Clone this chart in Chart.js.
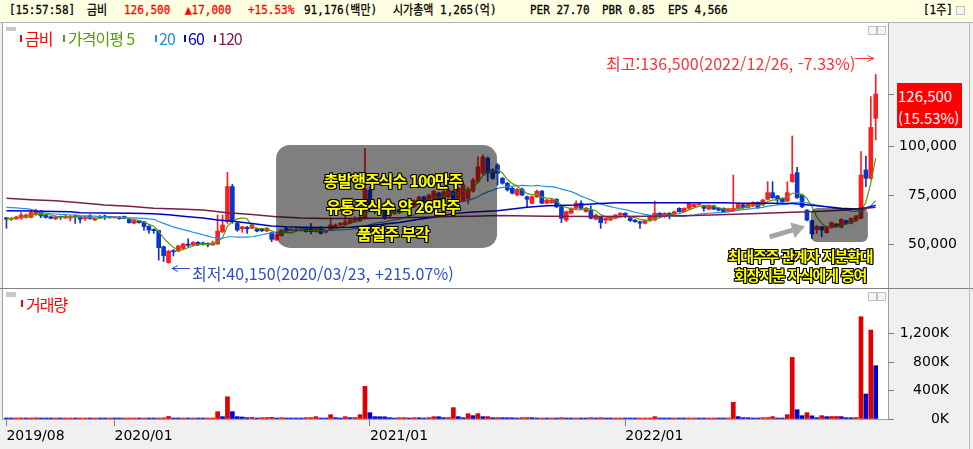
<!DOCTYPE html>
<html lang="ko"><head><meta charset="utf-8">
<script src="https://cdn.jsdelivr.net/npm/chart.js@4.4.1/dist/chart.umd.min.js"></script>
<style>
html,body{margin:0;padding:0}
body{width:973px;height:449px;background:#f0f0f0;position:relative;overflow:hidden;font-family:"Noto Sans CJK KR","Noto Sans",sans-serif}
.a{position:absolute;white-space:nowrap}
#hdr{left:0;top:0;width:973px;height:22px;background:#ffffe1;border-bottom:1px solid #b4b4b4}
.h{position:absolute;top:4px;font-family:"DejaVu Sans Mono","Noto Sans CJK KR",monospace;font-size:11px;line-height:14px;color:#000;transform:scaleY(1.15);transform-origin:0 50%;-webkit-text-stroke:0.25px currentColor}
.r{color:#ff0000}
#p1{left:2px;top:23px;width:885px;height:265px;background:#fff;border-left:1px solid #a0a0a0;border-right:1px solid #a0a0a0}
#sep{left:0;top:288px;width:973px;height:1px;background:#808080}
#p2{left:2px;top:289px;width:885px;height:130px;background:#fff;border-left:1px solid #a0a0a0;border-right:1px solid #a0a0a0;border-bottom:1px solid #a0a0a0}
#rf{left:969px;top:23px;width:1px;height:426px;background:#b8b8b8}
canvas{position:absolute;left:0}
#c1{top:24px}
#c2{top:289px}
.lg{font-size:16px;line-height:20px;letter-spacing:-1px}
.mk{position:absolute;width:2px;height:7px}
.ann{font-weight:700;color:#ffff00;line-height:20px;transform:translateX(-50%);
 text-shadow:-1px -1px 0 #000,1px -1px 0 #000,-1px 1px 0 #000,1px 1px 0 #000,0 1px 0 #000,1px 0 0 #000,0 -1px 0 #000,-1px 0 0 #000}
.a1{font-size:16px;letter-spacing:-1px}
.a2{font-size:15px;letter-spacing:-1.2px}
.hl{font-size:16px;line-height:20px;letter-spacing:0.1px}
.gr{background:#c8c8c8}
.ic{position:absolute;width:7px;height:7px;border:1px solid #c0c0c0;background:#f4f4f4}
#badge{left:897px;top:83px;width:65px;height:45px;background:#ff0000;color:#fff;font-size:15px;line-height:22px;padding:2px 0 0 1px;box-sizing:border-box}
</style></head>
<body>
<div id="hdr" class="a">
 <span class="h" style="left:9px">[15:57:58]</span>
 <span class="h" style="left:87px">금비</span>
 <span class="h r" style="left:124px">126,500</span>
 <span class="h r" style="left:185px">▲17,000</span>
 <span class="h r" style="left:248px">+15.53%</span>
 <span class="h" style="left:304px">91,176(백만)</span>
 <span class="h" style="left:393px">시가총액 1,265(억)</span>
 <span class="h" style="left:530px">PER 27.70</span>
 <span class="h" style="left:602px">PBR 0.85</span>
 <span class="h" style="left:668px">EPS 4,566</span>
 <span class="h" style="left:923px">[1주]</span>
 <span class="ic" style="left:956px;top:6px"></span>
</div>
<div id="p1" class="a"></div>
<div id="sep" class="a"></div>
<div id="p2" class="a"></div>
<div id="rf" class="a"></div>
<canvas id="c1" width="973" height="264" style="width:973px;height:264px"></canvas>
<canvas id="c2" width="973" height="160" style="width:973px;height:160px"></canvas>

<div class="a gr" style="left:6px;top:27px;width:10px;height:4px"></div>
<div class="a gr" style="left:6px;top:292px;width:10px;height:5px"></div>
<span class="ic" style="left:868px;top:26px"></span><span class="ic" style="left:877px;top:26px"></span>
<span class="ic" style="left:868px;top:292px"></span><span class="ic" style="left:877px;top:292px"></span>

<div class="mk" style="left:20px;top:35px;background:#ff0000"></div>
<div class="a lg" style="left:25px;top:28px;color:#ff0000">금비</div>
<div class="mk" style="left:63px;top:35px;background:#5a9e00"></div>
<div class="a lg" style="left:68px;top:28px;color:#5a9e00">가격이평 5</div>
<div class="mk" style="left:155px;top:35px;background:#2a8fdc"></div>
<div class="a lg" style="left:159px;top:28px;color:#2a8fdc">20</div>
<div class="mk" style="left:184px;top:35px;background:#0000c8"></div>
<div class="a lg" style="left:188px;top:28px;color:#0000c8">60</div>
<div class="mk" style="left:214px;top:35px;background:#7a1f4a"></div>
<div class="a lg" style="left:218px;top:28px;color:#7a1f4a">120</div>

<div class="mk" style="left:21px;top:300px;background:#ff0000"></div>
<div class="a lg" style="left:26px;top:294px;color:#ff0000">거래량</div>

<div class="a hl" style="left:606px;top:53px;color:#ff3333">최고:136,500(2022/12/26, -7.33%)</div>
<div class="a hl" style="left:192px;top:263px;color:#2a4fc8">최저:40,150(2020/03/23, +215.07%)</div>

<div class="a ann a1" style="left:393px;top:170px">총발행주식수 100만주</div>
<div class="a ann a1" style="left:393px;top:196px">유통주식수 약 26만주</div>
<div class="a ann a1" style="left:393px;top:223px">품절주 부각</div>
<div class="a ann a2" style="left:800px;top:246px">최대주주 관계자 지분확대</div>
<div class="a ann a2" style="left:800px;top:265px">회장지분 자식에게 증여</div>

<div id="badge" class="a">126,500<br>(15.53%)</div>

<script>
// ---------- DATA (weekly candles from week of 2019-08-05) ----------
const startDate = '2019-08-05';
const opens = [
63400,62600,62800,63200,63600,63600,65000,66500,64600,63900,
62800,63900,63300,63200,64000,63900,62900,64300,62200,64000,
64000,63900,63500,63800,64000,62500,60600,61900,61400,59000,
57400,56900,48600,40500,46600,46400,47800,50000,49500,50800,
50600,50300,49500,50000,56300,61400,79300,60500,57700,58500,
58000,57700,57700,56600,55800,52000,54200,58000,56800,57500,
56800,58000,58500,56300,58500,56000,57100,59000,59700,59700,
60600,61400,63500,63000,77500,68000,66000,69000,64300,65600,
67500,68200,71000,69000,71000,74000,71000,73000,76000,70800,
74000,77000,73300,72000,73000,77000,81800,86100,93700,87800,
90300,83500,81000,78400,75000,78000,74100,70800,74000,77000,
70800,71000,72800,69000,62200,65700,68200,70800,66500,67300,
62600,63900,62200,62200,63100,64800,65700,63400,62200,61400,
60600,62000,62200,65700,63900,65700,65300,68200,66500,68200,
69000,70000,69500,67800,69500,68200,68200,66800,67000,67900,
70000,68600,69400,71200,69900,72800,76200,74500,73300,71900,
81800,86400,75000,67300,61900,57300,58800,55800,58800,60200,
58500,61900,60600,61900,63100,87800,83500,114100];
const highs = [
63600,63600,64200,66000,65300,67000,67800,67000,65000,64200,
64200,64300,64600,64600,65000,64200,64300,65000,63400,64600,
64800,64100,64100,64000,64300,62800,62300,62100,61600,59400,
57800,57100,49000,46800,47200,49400,50400,52600,51200,51200,
51000,50600,51500,64800,64800,86600,80500,61000,59000,59000,
60300,58200,58000,58500,56000,55500,57500,58500,58000,58000,
58000,58300,60500,58200,58800,57000,63600,60200,61000,64300,
62600,64000,64000,98800,79000,69500,67800,69500,67000,68000,
68000,72000,71500,72500,74500,74500,75500,77500,76500,77500,
78500,77500,79000,81000,79000,83500,94500,95500,94500,88500,
91000,84000,81500,79000,78300,78500,74500,74500,77500,77300,
72800,73000,73200,69300,66800,68500,72000,72000,68600,69500,
65200,64200,63400,64200,65000,66000,66000,63800,62500,61700,
62500,64200,71900,66000,66000,66000,66800,68500,68500,71200,
70500,71000,69800,69600,69800,68500,68500,68300,85200,70500,
70300,70500,71500,71500,72800,81800,81800,74800,73600,81800,
105100,89100,75500,67600,62200,59400,59100,59100,61200,60500,
62900,62200,63400,64600,97100,94900,125200,136500];
const lows = [
58000,62000,62500,62600,63200,63300,64600,63400,63200,62800,
62400,62500,63000,61800,60500,60800,62000,62600,62000,63000,
62500,63200,63200,62600,62800,60600,60300,60600,57100,55400,
55400,41800,41000,40150,43900,46000,47500,48300,49200,49200,
49400,48500,49300,49800,55800,60500,60500,56500,56000,55400,
57800,56200,56300,56300,51200,51800,54000,56200,56500,56600,
56500,56000,55100,56000,55000,55600,56800,58600,59300,59500,
60200,61000,61500,62500,68000,65500,65200,62500,63800,65000,
65500,67500,69000,68500,70500,70500,70500,72500,70000,70000,
73500,72500,73000,71500,70500,76500,81000,85500,82000,83000,
80000,80500,77000,75500,74500,74500,69000,70500,73800,70500,
70500,70800,68500,60900,61500,65300,68000,67800,66200,62800,
62300,58000,60500,62000,62800,64500,63500,61500,61000,58000,
60300,61500,62000,63600,63600,62800,65000,66200,66200,68000,
68800,69800,66800,67500,67500,66800,66200,66500,66800,67600,
68300,68300,69100,68200,69600,72500,73300,70200,71300,71600,
81500,73300,68500,61800,52900,55400,53700,55500,58500,58500,
58200,60000,60300,61600,62800,79200,83000,103100];
const closes = [
62600,63000,63800,64800,64800,66000,66800,64300,63600,63100,
63900,63600,64200,64100,63800,62600,63900,63000,63100,63400,
63800,63600,63800,62900,63200,60900,62000,60900,58900,57100,
56800,48100,44000,46400,46000,49000,50000,49300,50800,49600,
49800,49500,50600,56600,59700,79300,61400,57100,58800,57700,
59700,56600,56800,58000,52400,54900,57100,56600,57500,57000,
57600,56300,56300,57900,55400,56500,59700,59700,60500,61400,
62200,63100,62000,78000,69000,66500,67000,63100,66500,67300,
66000,71600,69500,72000,74000,71000,75000,77000,72500,76700,
77600,73000,78400,80100,78000,82700,89400,94500,86100,83500,
86100,81000,77600,75900,77900,75000,72800,74100,76900,70800,
72400,72500,69000,63100,66500,68200,70800,68200,68200,63100,
64800,60900,63100,63900,64800,65700,63900,61900,61400,60600,
62200,63900,65700,63900,65700,64800,66500,66500,68200,70800,
70200,70300,68200,69300,67800,67300,66500,68000,68200,70200,
68600,70200,71200,68500,72400,76200,73600,72400,71600,76200,
85500,73600,69000,62200,55100,59000,57100,58800,60900,58800,
62600,60300,63100,64300,85200,83500,109500,126500];
// weekly volume, thousands of shares
const volumesK = [
12,10,14,16,13,15,17,12,10,9,
11,8,10,12,9,11,13,10,12,9,
8,10,9,8,9,10,12,11,13,12,
10,14,16,35,14,12,13,11,12,10,
9,11,13,103,33,314,103,33,28,19,
22,8,19,21,24,9,19,8,7,6,
5,19,20,33,6,5,61,19,6,33,
19,20,61,460,89,33,32,31,19,6,
19,20,6,19,18,6,19,33,32,19,
20,160,33,19,75,47,75,33,34,19,
20,19,18,17,5,19,20,19,5,6,
5,6,5,19,8,7,9,8,6,19,
9,19,8,7,9,10,8,7,6,7,
8,9,33,10,9,8,9,8,7,8,
9,8,7,8,9,8,7,9,235,33,
19,18,5,4,19,20,33,5,4,61,
868,131,47,89,45,19,47,33,35,36,
33,19,18,20,1441,352,1253,751];
// moving averages (thousand won)
const ma5K = [
63.0,63.1,63.3,63.6,63.8,64.5,65.2,65.3,65.1,64.8,
64.3,63.7,63.7,63.8,63.9,63.7,63.7,63.5,63.3,63.2,
63.4,63.4,63.5,63.5,63.5,62.9,62.6,62.0,61.2,60.0,
59.1,56.4,53.0,50.5,48.3,46.7,47.1,48.1,49.0,49.7,
49.9,49.8,50.1,51.2,53.2,59.1,61.5,62.8,63.3,62.9,
58.9,58.0,57.9,57.8,56.7,55.7,55.8,55.8,55.7,56.6,
57.2,57.0,56.9,57.0,56.7,56.5,57.2,57.8,58.4,59.6,
60.7,61.4,61.8,65.3,66.9,67.7,68.5,68.7,66.4,66.1,
66.0,66.9,68.2,69.3,70.6,71.6,72.3,73.8,73.9,74.4,
75.8,75.4,75.6,77.2,77.4,78.4,81.7,84.9,86.1,87.2,
87.9,86.2,82.9,80.8,79.7,77.5,75.8,75.1,75.3,73.9,
73.4,73.3,72.3,69.6,68.7,67.9,67.5,67.4,68.4,67.7,
67.0,65.0,64.0,63.2,63.5,63.7,64.3,64.0,63.5,62.7,
62.0,62.0,62.8,63.3,64.3,64.8,65.3,65.5,66.3,67.4,
68.4,69.2,69.5,69.8,69.2,68.6,67.8,67.8,67.6,68.0,
68.3,69.0,69.7,69.7,70.2,71.7,72.4,72.6,73.2,74.0,
75.9,75.9,75.2,73.3,69.1,63.8,60.5,58.4,58.2,58.9,
59.6,60.3,61.1,61.8,67.1,71.3,81.1,93.8];
const ma20K = [
68.7,68.6,68.4,68.2,68.0,67.7,66.9,66.0,65.8,65.5,
65.3,65.1,65.0,64.8,64.7,64.5,64.4,64.3,64.2,64.0,
63.9,63.8,63.7,63.6,63.5,63.4,63.3,63.2,63.1,62.8,
62.6,61.5,60.5,59.6,58.7,58.0,57.3,56.7,56.0,55.4,
54.7,54.0,53.3,53.0,52.8,53.7,53.7,53.5,53.5,53.5,
53.7,54.1,54.7,55.3,55.6,55.9,56.3,56.7,57.0,57.4,
57.7,58.1,58.4,58.4,58.2,57.1,57.0,57.1,57.2,57.4,
57.5,57.8,58.1,59.1,59.9,60.5,61.0,61.3,61.8,62.3,
62.7,63.5,64.1,64.9,65.8,66.5,67.3,68.1,68.7,69.5,
70.3,70.8,71.6,71.7,72.1,73.0,74.1,75.6,76.6,77.4,
78.4,78.9,79.3,79.5,79.7,79.9,79.8,79.6,79.9,79.6,
79.3,79.3,78.8,78.0,77.4,76.7,75.7,74.4,73.5,72.5,
71.4,70.4,69.7,69.1,68.5,68.0,67.5,66.9,66.2,65.7,
65.1,64.7,64.5,64.6,64.5,64.4,64.2,64.1,64.1,64.5,
64.7,65.2,65.5,65.7,65.9,66.0,66.1,66.4,66.7,67.2,
67.5,67.8,68.1,68.4,68.7,69.3,69.6,69.9,70.1,70.3,
71.1,71.3,71.3,71.0,70.3,69.9,69.4,69.0,68.6,68.0,
67.7,67.3,66.8,66.6,67.3,67.6,69.4,72.1];
// MA60 / MA120 read at sample weeks: [week index, thousand won]
const ma60Pts = [[0,67.0],[5,66.9],[10,66.6],[13,66.5],[15,65.9],[20,65.8],[25,65.7],[28,65.6],[30,65.4],[33,64.9],[37,63.9],[40,63.3],[43,62.2],[45,61.8],[47,61.4],[50,60.5],[54,59.2],[57,58.8],[60,58.6],[65,58.4],[70,58.5],[74,59.5],[80,61.0],[84,62.6],[88,64.0],[91,65.5],[95,66.3],[100,67.0],[106,68.8],[110,69.5],[116,69.9],[120,70.5],[124,71.0],[130,71.1],[135,71.0],[140,71.1],[146,71.0],[150,70.8],[155,70.8],[160,70.6],[165,69.5],[170,68.2],[173,67.8],[175,68.5],[177,69.7]];
const ma120Pts = [[0,73.3],[5,72.6],[10,72.1],[15,71.0],[20,69.9],[25,69.2],[30,68.2],[35,67.8],[40,67.3],[45,66.0],[50,65.1],[55,63.9],[60,63.3],[65,63.0],[70,63.0],[75,63.2],[80,63.4],[85,63.7],[90,64.0],[95,64.2],[100,64.5],[110,64.2],[120,64.0],[130,64.2],[140,64.6],[150,65.3],[160,66.2],[165,66.6],[170,67.2],[175,68.2],[177,68.8]];
const priceTicks = [50000, 75000, 100000, 126500];
const volTicksK = [0, 400, 800, 1200];
const xTickIdx = [0, 22, 74, 126];
const xTickText = ['2019/08', '2020/01', '2021/01', '2022/01'];
const extraSlots = 2;

// ---------- build ----------
const N = closes.length, NS = N + extraSlots;
const labels = [];
{ const d0 = new Date(startDate + 'T00:00:00Z');
  for (let i = 0; i < NS; i++) { const d = new Date(d0.getTime() + i*7*86400000);
    labels.push(d.getUTCFullYear() + '/' + String(d.getUTCMonth()+1).padStart(2,'0') + '/' + String(d.getUTCDate()).padStart(2,'0')); } }
const pad = a => a.concat(new Array(NS - a.length).fill(null));
const fromPts = pts => { const a = new Array(NS).fill(null); pts.forEach(([i,v]) => a[i] = v*1000); return a; };
const UP = '#ff1e1e', DN = '#0a36cc', VUP = '#e00000', VDN = '#0000cc';
const cCol = closes.map((c,i) => c >= opens[i] ? UP : DN);
const vCol = volumesK.map((v,i) => i > 0 && v >= volumesK[i-1] ? VUP : VDN);
const wicks = pad(lows.map((l,i) => [l, highs[i]]));
const bodies = pad(opens.map((o,i) => [o, closes[i]]));

const PMIN = 27551, PMAX = 162245, VMAX = 1775;
const maxHigh = Math.max(...highs), maxIdx = highs.indexOf(maxHigh);
const minLow = Math.min(...lows), minIdx = lows.indexOf(minLow);

const overlay = {
  id: 'overlay',
  afterDatasetsDraw(chart) {
    const {ctx, scales: {x, y}} = chart;
    ctx.save();
    ctx.fillStyle = 'rgba(0,0,0,0.5)';
    const box = (i0, i1, p0, p1, r) => { const X0 = x.getPixelForValue(i0), X1 = x.getPixelForValue(i1);
      const Y0 = y.getPixelForValue(p1), Y1 = y.getPixelForValue(p0);
      ctx.beginPath(); ctx.roundRect(X0, Y0, X1 - X0, Y1 - Y0, r); ctx.fill(); };
    box(54.9, 99.9, 48000, 100500, 14);
    box(163.8, 175.4, 51000, 68400, 6);
    // grey block arrow
    const ax0 = x.getPixelForValue(155.4), ay0 = y.getPixelForValue(53600);
    const ax1 = x.getPixelForValue(162.6), ay1 = y.getPixelForValue(58900);
    const ang = Math.atan2(ay1 - ay0, ax1 - ax0), hl = 13, hw = 8;
    const bx = ax1 - hl*Math.cos(ang), by = ay1 - hl*Math.sin(ang);
    ctx.strokeStyle = '#a6a6a6'; ctx.fillStyle = '#a6a6a6'; ctx.lineWidth = 5; ctx.lineCap = 'butt';
    ctx.beginPath(); ctx.moveTo(ax0, ay0); ctx.lineTo(bx, by); ctx.stroke();
    ctx.beginPath(); ctx.moveTo(ax1, ay1);
    ctx.lineTo(bx + hw*Math.sin(ang), by - hw*Math.cos(ang));
    ctx.lineTo(bx - hw*Math.sin(ang), by + hw*Math.cos(ang)); ctx.closePath(); ctx.fill();
    // max / min pointers
    ctx.lineWidth = 1;
    const mx = x.getPixelForValue(maxIdx) - 2, my = Math.round(y.getPixelForValue(maxHigh) - 16) + 0.5;
    ctx.strokeStyle = '#ff3333'; ctx.beginPath();
    ctx.moveTo(mx - 19, my); ctx.lineTo(mx, my); ctx.moveTo(mx - 6, my - 3); ctx.lineTo(mx, my); ctx.lineTo(mx - 6, my + 3); ctx.stroke();
    const nx = x.getPixelForValue(minIdx) + 3.5, ny = Math.round(y.getPixelForValue(minLow) + 5) + 0.5;
    ctx.strokeStyle = '#2a4fc8'; ctx.beginPath();
    ctx.moveTo(nx + 18, ny); ctx.lineTo(nx, ny); ctx.moveTo(nx + 6, ny - 3); ctx.lineTo(nx, ny); ctx.lineTo(nx + 6, ny + 3); ctx.stroke();
    ctx.restore();
  }
};

const tickFont = {family: 'DejaVu Sans', size: 14};
const lineDs = (label, data, color, w, order) => ({type: 'line', label, data, borderColor: color, borderWidth: w,
  pointRadius: 0, tension: 0, spanGaps: true, order, fill: false});

new Chart(document.getElementById('c1'), {
  data: {
    labels,
    datasets: [
      lineDs('120', fromPts(ma120Pts), '#7a1f4a', 1.5, 0),
      lineDs('60', fromPts(ma60Pts), '#0000c8', 1.5, 0),
      lineDs('20', pad(ma20K.map(v => v*1000)), '#2a8fdc', 1.2, 0),
      lineDs('5', pad(ma5K.map(v => v*1000)), '#5a9e00', 1.2, 0),
      {type: 'bar', label: 'body', data: bodies, backgroundColor: cCol, barThickness: 4, grouped: false, minBarLength: 1, order: 1, borderWidth: 0},
      {type: 'bar', label: 'wick', data: wicks, backgroundColor: cCol, barThickness: 1, grouped: false, order: 2, borderWidth: 0}
    ]
  },
  options: {
    responsive: false, animation: false, devicePixelRatio: 1,
    layout: {padding: {left: 4, right: 16, top: 0, bottom: 0}},
    plugins: {legend: {display: false}, tooltip: {enabled: false}},
    scales: {
      x: {type: 'category', display: false, offset: true},
      y: {position: 'right', min: PMIN, max: PMAX,
        afterBuildTicks: s => { s.ticks = priceTicks.map(v => ({value: v})); },
        afterFit: s => { s.width = 69; s.paddingTop = 0; s.paddingBottom = 0; },
        ticks: {font: tickFont, color: '#000', padding: 6, crossAlign: 'far',
          callback: v => v === 126500 ? '' : v.toLocaleString('en-US')},
        grid: {drawOnChartArea: false, tickLength: 6, color: '#808080'},
        border: {display: false}}
    }
  },
  plugins: [overlay]
});

new Chart(document.getElementById('c2'), {
  type: 'bar',
  data: {labels, datasets: [{data: pad(volumesK), backgroundColor: vCol, barThickness: 4, minBarLength: 1, borderWidth: 0}]},
  options: {
    responsive: false, animation: false, devicePixelRatio: 1,
    layout: {padding: {left: 4, right: 24, top: 4, bottom: 0}},
    plugins: {legend: {display: false}, tooltip: {enabled: false}},
    scales: {
      x: {type: 'category', offset: true,
        afterBuildTicks: s => { s.ticks = xTickIdx.map(i => ({value: i})); },
        afterFit: s => { s.height = 30; s.paddingLeft = 0; s.paddingRight = 0; },
        ticks: {autoSkip: false, maxRotation: 0, minRotation: 0, align: 'start', padding: 2, font: tickFont, color: '#000',
          callback: (v, k) => xTickText[k]},
        grid: {offset: false, drawOnChartArea: false, tickLength: 7, color: '#808080'},
        border: {display: false}},
      y: {position: 'right', min: 0, max: VMAX,
        afterBuildTicks: s => { s.ticks = volTicksK.map(v => ({value: v})); },
        afterFit: s => { s.width = 61; s.paddingTop = 0; s.paddingBottom = 0; },
        ticks: {font: tickFont, color: '#000', padding: 6, crossAlign: 'far',
          callback: v => v.toLocaleString('en-US') + 'K'},
        grid: {drawOnChartArea: false, tickLength: 6, color: '#808080'},
        border: {display: false}}
    }
  }
});
</script>
</body></html>
